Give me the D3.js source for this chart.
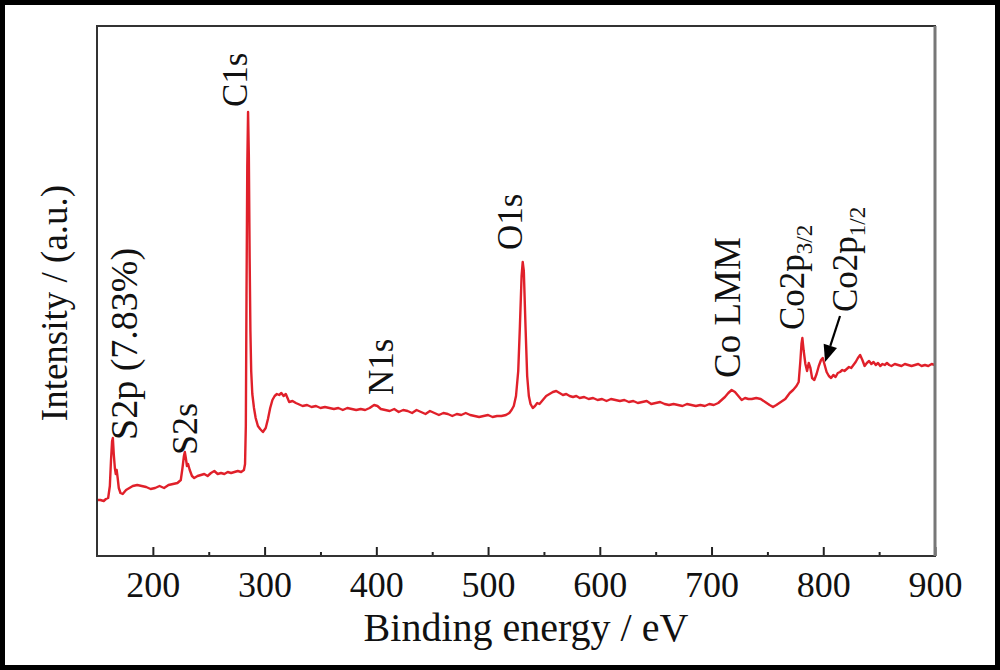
<!DOCTYPE html>
<html>
<head>
<meta charset="utf-8">
<script src="https://cdn.jsdelivr.net/npm/d3@7/dist/d3.min.js"></script>
<style>
  html, body { margin: 0; padding: 0; background: #fff; }
  svg { display: block; }
  text { font-family: "Liberation Serif", "Times New Roman", serif; fill: #111; }
</style>
</head>
<body>
<svg id="chart" width="1000" height="670"></svg>
<script>
// ---- data ----
const energy = [
  150,153,156,158,160,161.5,162.5,163.5,164.2,165,166,166.8,167.6,168.5,169.5,171,173,176,179,182,186,190,194,198,202,206,210,214,218,222,225,226.5,227.8,228.6,229.5,230.5,231.5,233,235,237,240,243,246,249,252,255,258,261,264,267,270,273,276,279,281.5,282.5,283.2,283.8,284.5,285.2,285.9,286.6,287.3,288,289,290.5,292,294,296,298.5,301,303,305,307,309,311,313,315,317,319,320.5,322,325,328,
  330,334,338,342,346,350,354,358,362,366,370,374,378,382,386,390,394,398,401,404,408,412,416,420,424,428,432,436,440,444,448,452,456,460,464,468,472,476,480,484,488,492,496,500,504,508,512,516,519,521,523,525,527,528.5,530,531,532,533.5,535,536.5,538,540,542,544,546,549,552,555,558,561,564,567,570,573,576,579,582,586,590,594,598,602,606,610,614,618,622,626,630,634,638,642,646,650,654,658,662,666,670,674,678,682,686,690,694,698,702,706,709,712,715,718,721,724,727,730,733,736,740,744,748,752,755,758,762,766,770,773,776,778,779.5,780.5,781.3,782.5,784,785.5,787,788.5,790,792,794,796,798,799.5,801,803,805,807,809,811,813,815,817,819,821,823,825,827,829,831,833,835,837,839,841,843,845,847,849,851,853,855,857,859,861,864,867,870,873,876,879,882,885,888,891,894,897,900
];
const intensity = [
  56,56,55,57,58,70,95,115,118,102,88,82,86,78,68,63,62,66,68,70,71,70,69,67,68,70,68,71,72,73,76,88,100,104,98,90,92,86,80,78,80,81,82,80,83,85,82,83,82,84,83,84,85,84,86,92,130,260,390,444,400,300,225,185,162,148,138,130,127,124,128,137,148,156,160,162,161,163,160,162,158,154,155,153,
  152,150,151,149,150,148,149,148,147,148,146,148,147,146,147,146,148,151,150,147,146,145,147,144,146,145,143,146,144,142,145,143,141,143,142,140,142,141,143,141,140,139,140,141,139,140,140,141,143,146,150,160,185,230,280,294,285,230,180,160,152,148,150,153,152,156,160,162,164,165,163,161,162,160,159,160,158,159,157,158,156,157,155,157,156,155,156,154,155,153,154,155,152,153,154,152,151,152,151,150,152,151,150,151,150,152,151,153,156,159,163,166,164,160,156,158,157,157,158,157,154,151,149,151,154,157,163,166,170,174,195,212,218,205,192,185,193,188,178,176,182,190,196,198,192,184,180,178,181,179,183,184,186,185,187,189,188,191,194,198,201,196,190,193,195,192,194,191,193,190,192,191,193,191,190,192,191,190,192,191,190,191,192,190,191,190,192,191
];
const xTicks = [200, 300, 400, 500, 600, 700, 800, 900];
const xMinorTicks = [250, 350, 450, 550, 650, 750, 850];
// peak labels: text, subscript, anchor energy (baseline) and anchor intensity (start of text)
const labelTexts = ["S2p (7.83%)", "S2s", "C1s", "N1s", "O1s", "Co LMM", "Co2p", "Co2p"];
const labelSubs = ["", "", "", "", "", "", "3/2", "1/2"];
const labelEnergies = [186, 239.5, 284.3, 414.9, 530.4, 725.5, 783.2, 830.2];
const labelHeights = [116, 101, 449, 161, 306, 178, 226, 244];
const labelSizes = [38, 36, 35, 35, 35, 37, 35, 35];
// arrow pointing at Co2p1/2 (start / tip, in data units)
const arrowStart = [815, 240];
const arrowTip = [801.6, 194];
const xTitle = "Binding energy / eV";
const yTitle = "Intensity / (a.u.)";

// ---- layout ----
const W = 1000, H = 670;
const L = 97, R = 935, T = 26, B = 556;
const svg = d3.select("#chart");

const x = d3.scaleLinear().domain([150, 900]).range([L, R]);
const y = d3.scaleLinear().domain([0, 530]).range([B, T]);

// outer frame
svg.append("rect").attr("x", 2.5).attr("y", 2.5).attr("width", W - 5).attr("height", H - 5)
  .attr("fill", "none").attr("stroke", "#000").attr("stroke-width", 5);

// spectrum
const pts = energy.map((e, i) => [e, intensity[i]]);
svg.append("path").datum(pts)
  .attr("fill", "none").attr("stroke", "#e0202a").attr("stroke-width", 2.4)
  .attr("stroke-linejoin", "round")
  .attr("d", d3.line().x(d => x(d[0])).y(d => y(d[1])));

// bottom axis with inward ticks
const axB = svg.append("g").attr("transform", `translate(0,${B})`)
  .call(d3.axisBottom(x).tickValues(xTicks).tickSizeInner(-9).tickSizeOuter(0).tickPadding(15).tickFormat(d3.format("d")));
axB.select(".domain").remove();
axB.selectAll(".tick line").attr("stroke", "#222").attr("stroke-width", 2);
axB.selectAll(".tick text").attr("font-size", 36).attr("font-family", "Liberation Serif").attr("fill", "#111").attr("dy", "0.71em");
const axBm = svg.append("g").attr("transform", `translate(0,${B})`)
  .call(d3.axisBottom(x).tickValues(xMinorTicks).tickSizeInner(-4).tickSizeOuter(0).tickFormat(""));
axBm.select(".domain").remove();
axBm.selectAll(".tick line").attr("stroke", "#222").attr("stroke-width", 2);

// plot box
svg.append("rect").attr("x", L).attr("y", T).attr("width", R - L).attr("height", B - T)
  .attr("fill", "none").attr("stroke", "#333").attr("stroke-width", 2);
svg.append("line").attr("x1", R).attr("x2", R).attr("y1", T).attr("y2", B)
  .attr("stroke", "#777").attr("stroke-width", 3);

// titles
svg.append("text").attr("x", 526).attr("y", 641).attr("text-anchor", "middle")
  .attr("font-size", 40).text(xTitle);
svg.append("text").attr("transform", `translate(67,${(T + B) / 2 + 12}) rotate(-90)`)
  .attr("text-anchor", "middle").attr("font-size", 37).text(yTitle);

// peak labels (rotated)
labelTexts.forEach((txt, i) => {
  const t = svg.append("text")
    .attr("transform", `translate(${x(labelEnergies[i])},${y(labelHeights[i])}) rotate(-90)`)
    .attr("font-size", labelSizes[i]);
  t.append("tspan").text(txt);
  if (labelSubs[i]) t.append("tspan").attr("font-size", 23).attr("dy", 8).text(labelSubs[i]);
});

// arrow for Co2p1/2
const ax1 = x(arrowStart[0]), ay1 = y(arrowStart[1]);
const ax2 = x(arrowTip[0]), ay2 = y(arrowTip[1]);
const ang = Math.atan2(ay2 - ay1, ax2 - ax1);
const hl = 17, hw = 7;
const bx = ax2 - hl * Math.cos(ang), by = ay2 - hl * Math.sin(ang);
svg.append("line").attr("x1", ax1).attr("y1", ay1).attr("x2", bx).attr("y2", by)
  .attr("stroke", "#000").attr("stroke-width", 2.2);
svg.append("path")
  .attr("d", `M${ax2},${ay2} L${bx + hw * Math.sin(ang)},${by - hw * Math.cos(ang)} L${bx - hw * Math.sin(ang)},${by + hw * Math.cos(ang)} Z`)
  .attr("fill", "#000");
</script>
</body>
</html>
